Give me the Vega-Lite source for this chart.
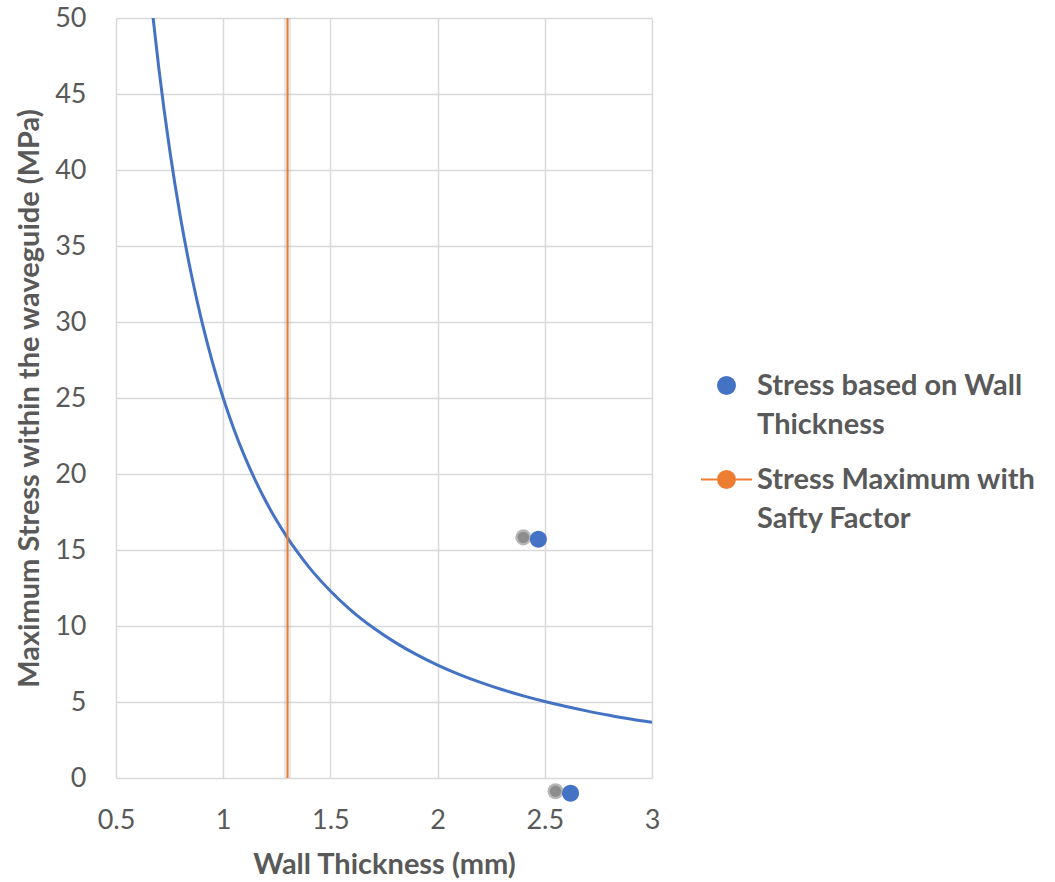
{
  "$schema": "https://vega.github.io/schema/vega-lite/v6.json",
  "width": 536,
  "height": 760,
  "autosize": {"type": "none"},
  "padding": {"left": 116, "top": 18, "right": 403, "bottom": 104},
  "background": "white",
  "config": {
    "view": {"stroke": null},
    "font": "Lato",
    "axis": {
      "labelFont": "Lato", "labelFontSize": 27, "labelColor": "#595959",
      "titleFont": "Lato", "titleFontSize": 29, "titleFontWeight": "bold", "titleColor": "#595959",
      "gridColor": "#D9D9D9", "gridWidth": 1.5, "domain": false, "ticks": false
    },
    "style": {"guide-label": {"lineHeight": 39}}
  },
  "datasets": {
    "curve": [
      {"t": 0.67, "y": 50.39}, {"t": 0.70, "y": 46.67}, {"t": 0.75, "y": 41.36}, {"t": 0.80, "y": 36.94},
      {"t": 0.85, "y": 33.22}, {"t": 0.90, "y": 30.06}, {"t": 0.95, "y": 27.35}, {"t": 1.00, "y": 25.0},
      {"t": 1.05, "y": 22.95}, {"t": 1.10, "y": 21.16}, {"t": 1.15, "y": 19.58}, {"t": 1.20, "y": 18.17},
      {"t": 1.25, "y": 16.92}, {"t": 1.30, "y": 15.80}, {"t": 1.35, "y": 14.79}, {"t": 1.40, "y": 13.87},
      {"t": 1.50, "y": 12.30}, {"t": 1.60, "y": 10.98}, {"t": 1.70, "y": 9.88}, {"t": 1.80, "y": 8.94},
      {"t": 1.90, "y": 8.13}, {"t": 2.00, "y": 7.43}, {"t": 2.10, "y": 6.82}, {"t": 2.20, "y": 6.29},
      {"t": 2.30, "y": 5.82}, {"t": 2.40, "y": 5.40}, {"t": 2.50, "y": 5.03}, {"t": 2.60, "y": 4.70},
      {"t": 2.70, "y": 4.40}, {"t": 2.80, "y": 4.13}, {"t": 2.90, "y": 3.88}, {"t": 3.00, "y": 3.66}
    ],
    "pts": [
      {"t": 2.47, "y": 15.7, "s": "Stress based on Wall Thickness"},
      {"t": 2.62, "y": -1.0, "s": "Stress based on Wall Thickness"}
    ],
    "limit": [
      {"t": 1.3, "s": "Stress Maximum with Safty Factor"}
    ]
  },
  "layer": [
    {
      "data": {"name": "curve"},
      "mark": {"type": "line", "color": "#4472C4", "strokeWidth": 3, "clip": true, "interpolate": "monotone"},
      "encoding": {
        "x": {"field": "t", "type": "quantitative",
          "scale": {"domain": [0.5, 3], "nice": false, "zero": false},
          "axis": {"values": [0.5, 1, 1.5, 2, 2.5, 3], "format": "~g", "title": "Wall Thickness (mm)", "labelPadding": 29, "titlePadding": 17, "labelFlush": false}},
        "y": {"field": "y", "type": "quantitative",
          "scale": {"domain": [0, 50], "nice": false},
          "axis": {"values": [0, 5, 10, 15, 20, 25, 30, 35, 40, 45, 50], "title": "Maximum Stress within the waveguide (MPa)", "labelPadding": 30, "titlePadding": 10, "labelFlush": false}}
      }
    },
    {
      "data": {"name": "limit"},
      "mark": {"type": "rule", "color": "#7f7f7f", "opacity": 0.18, "strokeWidth": 7},
      "encoding": {"x": {"field": "t", "type": "quantitative"}}
    },
    {
      "data": {"name": "limit"},
      "mark": {"type": "rule", "strokeWidth": 2},
      "encoding": {
        "x": {"field": "t", "type": "quantitative"},
        "color": {"field": "s", "type": "nominal"}
      }
    },
    {
      "data": {"name": "pts"},
      "mark": {"type": "point", "filled": true, "color": "#303030", "opacity": 0.35, "size": 260, "xOffset": -15, "yOffset": -2},
      "encoding": {
        "x": {"field": "t", "type": "quantitative"},
        "y": {"field": "y", "type": "quantitative"}
      }
    },
    {
      "data": {"name": "pts"},
      "mark": {"type": "point", "filled": true, "color": "#303030", "opacity": 0.3, "size": 130, "xOffset": -15, "yOffset": -2},
      "encoding": {
        "x": {"field": "t", "type": "quantitative"},
        "y": {"field": "y", "type": "quantitative"}
      }
    },
    {
      "data": {"name": "pts"},
      "mark": {"type": "point", "filled": true, "opacity": 1, "size": 2601},
      "encoding": {
        "x": {"field": "t", "type": "quantitative"},
        "y": {"field": "y", "type": "quantitative"},
        "color": {"field": "s", "type": "nominal",
          "scale": {"domain": ["Stress based on Wall Thickness", "Stress Maximum with Safty Factor"], "range": ["#4472C4", "#ED7D31"]},
          "legend": {
            "title": null, "orient": "none", "legendX": 584, "legendY": 341,
            "labelFont": "Lato", "labelFontSize": 29, "labelFontWeight": "bold", "labelColor": "#595959",
            "labelLimit": 400, "symbolSize": 2601, "symbolStrokeWidth": 2, "labelOffset": 4, "rowPadding": 13,
            "labelExpr": "datum.label == 'Stress based on Wall Thickness' ? ['Stress based on Wall', 'Thickness'] : ['Stress Maximum with', 'Safty Factor']",
            "encode": {
              "symbols": {"update": {"stroke": {"signal": "scale('color', datum.value)"}, "strokeWidth": {"value": 2}}}
            }
          }},
        "shape": {"field": "s", "type": "nominal",
          "scale": {"domain": ["Stress based on Wall Thickness", "Stress Maximum with Safty Factor"],
            "range": ["M-0.333,0A0.333,0.333 0 1,0 0.333,0A0.333,0.333 0 1,0 -0.333,0Z", "M-1,0L-0.333,0A0.333,0.333 0 1,0 0.333,0L1,0M0.333,0A0.333,0.333 0 1,0 -0.333,0Z"]},
          "legend": {
            "title": null, "orient": "none", "legendX": 584, "legendY": 341,
            "labelFont": "Lato", "labelFontSize": 29, "labelFontWeight": "bold", "labelColor": "#595959",
            "labelLimit": 400, "symbolSize": 2601, "labelOffset": 4, "rowPadding": 13,
            "labelExpr": "datum.label == 'Stress based on Wall Thickness' ? ['Stress based on Wall', 'Thickness'] : ['Stress Maximum with', 'Safty Factor']"
          }}
      }
    }
  ]
}
